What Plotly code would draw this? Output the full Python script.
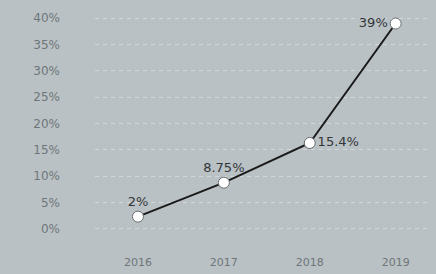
import plotly.graph_objects as go

years = ["2016", "2017", "2018", "2019"]
values = [2.3, 8.75, 16.3, 39]
labels = ["2%", "8.75%", "15.4%", "39%"]
label_pos = ["top center", "top center", "middle right", "middle left"]
y_ticks = [0, 5, 10, 15, 20, 25, 30, 35, 40]
y_tick_text = ["0%", "5%", "10%", "15%", "20%", "25%", "30%", "35%", "40%"]

bg = "#B9C1C4"

fig = go.Figure()
fig.add_trace(go.Scatter(
    x=years, y=values,
    mode="lines+markers+text",
    text=labels,
    textposition=label_pos,
    textfont=dict(family="DejaVu Sans", size=13, color="#333638"),
    line=dict(color="#1a1a1a", width=2),
    marker=dict(size=11, color="white", line=dict(color="#6a6e70", width=1)),
    cliponaxis=False,
    showlegend=False,
))

fig.update_layout(
    width=436, height=274,
    paper_bgcolor=bg, plot_bgcolor=bg,
    margin=dict(l=95, r=6, t=13, b=40),
    font=dict(family="DejaVu Sans", size=12, color="#6f7679"),
    xaxis=dict(
        type="category", range=[-0.5, 3.4],
        showgrid=False, zeroline=False, showline=False,
        ticks="", ticklabelstandoff=20,
        tickfont=dict(size=11, color="#6f7679"),
    ),
    yaxis=dict(
        range=[-1, 41],
        tickvals=y_ticks, ticktext=y_tick_text,
        showgrid=True, gridcolor="#D2D8DA", griddash="4px,4px", gridwidth=1,
        zeroline=False, showline=False,
        ticks="", ticklabelstandoff=34,
        tickfont=dict(size=12, color="#6f7679"),
    ),
)

fig.write_html(
    "out.html",
    config={"displayModeBar": False},
    post_script="document.body.style.margin='0';document.body.style.background='%s';" % bg,
)
